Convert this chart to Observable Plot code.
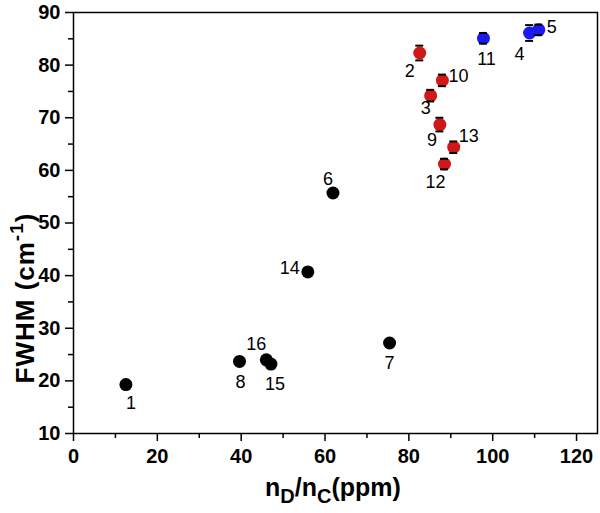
<!DOCTYPE html>
<html>
<head>
<meta charset="utf-8">
<script src="https://cdn.jsdelivr.net/npm/d3@7"></script>
<script src="https://cdn.jsdelivr.net/npm/@observablehq/plot@0.6"></script>
<style>
  html, body { margin: 0; padding: 0; background: #fff; }
  #chart svg { display: block; }
  g[aria-label="x-axis tick label"] text, g[aria-label="y-axis tick label"] text { font-weight: bold; }
</style>
</head>
<body>
<div id="chart"></div>
<script>
// ---- data ----
const ids    = [1, 2, 3, 4, 5, 6, 7, 8, 9, 10, 11, 12, 13, 14, 15, 16];
const xVals  = [12.5, 82.6, 85.2, 108.8, 111.0, 61.9, 75.4, 39.6, 87.4, 88.0, 97.8, 88.5, 90.7, 55.9, 47.1, 46.0];
const yVals  = [19.3, 82.3, 74.2, 86.1, 86.7, 55.7, 27.2, 23.7, 68.7, 77.1, 85.1, 61.2, 64.4, 40.7, 23.2, 24.0];
const groups = ["black","red","red","blue","blue","black","black","black","red","red","blue","red","red","black","black","black"];
const errs   = [0, 1.4, 1.1, 1.5, 1.0, 0, 0, 0, 1.3, 1.1, 1.0, 1.0, 1.1, 0, 0, 0];
const xTicks = [0, 20, 40, 60, 80, 100, 120];
const xMinor = [10, 30, 50, 70, 90, 110];
const yTicks = [10, 20, 30, 40, 50, 60, 70, 80, 90];
const yMinor = [15, 25, 35, 45, 55, 65, 75, 85];

// ---- styles ----
const colors = {black: "#000000", red: "#d01818", blue: "#1a1af0"};
// label placement (pixel offsets from each dot)
const labelPos = {
  1: [5, 19], 2: [-10, 18], 3: [-5, 13], 4: [-10, 21], 5: [13, -3],
  6: [-5, -14], 7: [0, 20], 8: [1, 21], 9: [-8, 16], 10: [16, -4],
  11: [3, 21], 12: [-9, 18], 13: [15, -11], 14: [-18, -4], 15: [4, 20], 16: [-10, -16]
};

const data = ids.map((id, i) => ({id, x: xVals[i], y: yVals[i], g: groups[i], e: errs[i]}));
const errData = data.filter(d => d.e > 0);
const capHalf = 0.95;

const labelMarks = data.map(d => Plot.text([d], {
  x: "x", y: "y", text: v => String(v.id),
  dx: labelPos[d.id][0], dy: labelPos[d.id][1],
  fontSize: 18, fill: "#000"
}));

const chart = Plot.plot({
  width: 600, height: 513,
  marginLeft: 73, marginRight: 3, marginTop: 12, marginBottom: 80,
  x: {domain: [0, 125]},
  y: {domain: [10, 90]},
  style: {fontFamily: "'Liberation Sans', Arial, sans-serif", background: "#fff", color: "#000"},
  marks: [
    Plot.axisX(xMinor, {tickSize: 5, text: null, strokeWidth: 1.5, label: null}),
    Plot.axisX(xTicks, {tickSize: 8, tickPadding: 7, fontSize: 20, strokeWidth: 1.5, label: null}),
    Plot.axisY(yMinor, {tickSize: 5, text: null, strokeWidth: 1.5, label: null}),
    Plot.axisY(yTicks, {tickSize: 8, tickPadding: 5, fontSize: 20, strokeWidth: 1.5, label: null}),
    Plot.frame({stroke: "#000", strokeWidth: 1.5}),
    Plot.dot(data, {x: "x", y: "y", r: 6.5, fill: d => colors[d.g], stroke: "none"}),
    Plot.ruleY(errData, {x1: d => d.x - capHalf, x2: d => d.x + capHalf, y: d => d.y + d.e, stroke: "#000", strokeWidth: 2}),
    Plot.ruleY(errData, {x1: d => d.x - capHalf, x2: d => d.x + capHalf, y: d => d.y - d.e, stroke: "#000", strokeWidth: 2}),
    ...labelMarks
  ]
});

document.getElementById("chart").appendChild(chart);

// axis titles with sub/superscripts
const svg = d3.select(chart);
const xt = svg.append("text")
  .attr("x", 333).attr("y", 496)
  .attr("text-anchor", "middle")
  .attr("font-family", "'Liberation Sans', Arial, sans-serif")
  .attr("font-weight", "bold").attr("font-size", 25).attr("fill", "#000");
xt.append("tspan").text("n");
xt.append("tspan").attr("dy", 7).attr("font-size", 20).text("D");
xt.append("tspan").attr("dy", -7).text("/n");
xt.append("tspan").attr("dy", 7).attr("font-size", 20).text("C");
xt.append("tspan").attr("dy", -7).text("(ppm)");

const yt = svg.append("text")
  .attr("transform", "translate(34,298) rotate(-90)")
  .attr("text-anchor", "middle")
  .attr("font-family", "'Liberation Sans', Arial, sans-serif")
  .attr("font-weight", "bold").attr("font-size", 26).attr("letter-spacing", 1).attr("fill", "#000");
yt.append("tspan").text("FWHM (cm");
yt.append("tspan").attr("dy", -11).attr("font-size", 19).text("-1");
yt.append("tspan").attr("dy", 11).text(")");
</script>
</body>
</html>
